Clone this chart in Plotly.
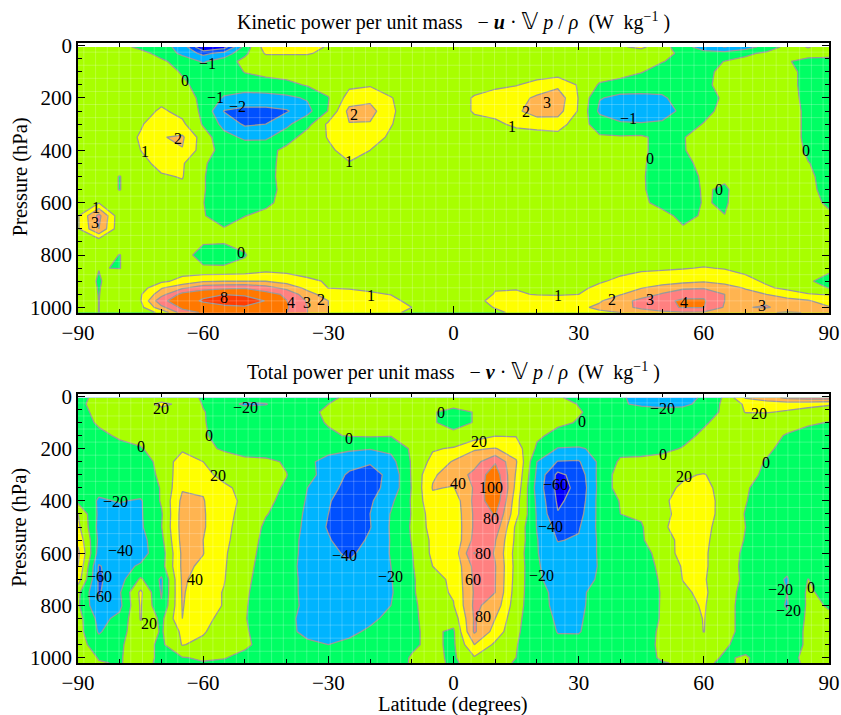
import numpy as np
import plotly.graph_objects as go

LAT = [-90,-85,-80,-75,-70,-65,-60,-55,-50,-45,-40,-35,-30,-25,-20,-15,-10,-5,
       0,5,10,15,20,25,30,35,40,45,50,55,60,65,70,75,80,85,90]

P_KINETIC = [5,30,60,100,150,200,250,300,350,400,450,500,550,600,650,700,750,800,850,900,925,950,975,1000,1020]
P_TOTAL = [5,30,60,100,150,200,250,300,350,400,450,500,550,600,650,700,750,800,850,900,950,1000,1020]

KINETIC = [
[.3,.3,.4,-.3,-.6,-1.4,-6,-5,-.6,1.5,1.6,1.4,.9,.6,.5,.5,.5,.5, .5,.5,.5,.5,.5,.4,.2,.3,.9,1.2,.4,-.6,-1.5,-2.1,-1.5,-.6,.3,1.1,.2],
[.5,.5,.5,.4,-.4,-1.2,-2.6,-1.6,-.2,1.1,1.1,1.1,.7,.5,.5,.5,.5,.5, .5,.5,.5,.5,.5,.5,.5,.5,.5,.5,.3,-.2,-.6,-.6,-.2,.2,.5,.5,.4],
[.5,.5,.5,.5,.2,-.5,-1.1,-.5,.3,.4,.4,.4,.5,.5,.5,.5,.5,.5, .5,.5,.5,.5,.5,.5,.5,.5,.5,.3,.05,-.3,-.3,.02,.3,.5,.1,-.4,-.4],
[.5,.5,.5,.5,.5,-.1,-.6,-.7,.05,.35,.5,.5,.5,.5,.5,.5,.5,.5, .5,.5,.5,.5,.5,.5,.5,.5,.5,.05,-.4,-.5,-.2,.2,.5,.5,.3,-.3,-.4],
[.5,.5,.5,.5,.5,.2,-.4,-.5,-.6,-.5,-.3,.1,.4,.8,.9,.5,.5,.5, .5,.6,.8,.95,1.3,1.75,.9,-.1,-.5,-.6,-.7,-.7,-.2,.3,.5,.5,.3,-.3,-.4],
[.5,.5,.5,.5,.7,.4,-.2,-1.1,-1.3,-1.3,-1.2,-.9,-.05,1.4,1.7,1.05,.5,.5, .5,1.1,1.4,1.6,2.2,2.6,.95,-.95,-1.2,-1.2,-1.1,-.7,-.4,.15,.5,.5,.4,-.3,-.5],
[.5,.5,.5,.6,1.15,.7,-.2,-2.1,-2.6,-2.6,-2.2,-1.3,.05,2.3,2.4,1.15,.5,.5, .5,1.1,1.3,1.8,2.5,2.4,.9,-1.2,-1.4,-1.4,-1.4,-.8,-.3,.3,.5,.5,.4,-.2,-.4],
[.5,.5,.5,.9,1.6,1.2,-.1,-1.3,-2.3,-2,-1.2,-.3,1.2,1.95,1.9,1.05,.5,.5, .5,.7,.8,1.2,1.4,1.5,.4,-.4,-.9,-.95,-.85,-.4,.05,.4,.5,.5,.4,-.2,-.4],
[.5,.5,.5,1.1,1.95,2.15,.5,-.7,-1.15,-1.15,-.5,.5,1.05,1.7,1.4,.85,.5,.5, .5,.5,.5,.5,.5,.6,.3,.1,.1,.15,-.3,-.05,.4,.5,.5,.5,.4,-.2,-.4],
[.5,.5,.5,1,1.8,1.95,.5,-.4,-.5,-.4,.3,.5,.85,1.3,1,.7,.5,.5, .5,.5,.5,.5,.5,.5,.5,.4,.4,.2,-.4,-.05,.3,.5,.5,.5,.35,-.1,-.3],
[.5,.5,.5,.7,1.3,1.1,.1,-.4,-.5,-.4,.4,.5,.7,.95,.85,.6,.5,.5, .5,.5,.5,.5,.5,.5,.5,.5,.45,.1,-.3,-.2,.2,.4,.5,.5,.4,.02,-.2],
[.5,.4,-.03,.6,.9,1.05,.05,-.4,-.5,-.35,.4,.5,.5,.5,.5,.5,.5,.5, .5,.5,.5,.5,.5,.5,.5,.5,.5,.1,-.4,-.3,.1,.1,.5,.5,.5,.1,-.2],
[.5,.4,-.03,.6,.7,.8,.05,-.4,-.5,-.35,.3,.5,.5,.5,.5,.5,.5,.5, .5,.5,.5,.5,.5,.5,.5,.5,.5,.1,-.35,-.3,.06,-.08,.3,.5,.5,.15,-.2],
[.5,.95,.5,.5,.5,.5,.02,-.45,-.45,-.25,.4,.5,.5,.5,.5,.5,.5,.5, .5,.5,.5,.5,.5,.5,.5,.5,.5,.2,-.3,-.35,.05,-.08,.4,.5,.5,.2,-.1],
[.9,3.3,.3,.5,.5,.5,.05,-.35,-.02,.3,.5,.5,.5,.5,.5,.5,.5,.5, .5,.5,.5,.5,.5,.5,.5,.5,.5,.4,.3,-.25,.1,.01,.5,.5,.5,.4,.1],
[.9,3,.3,.5,.5,.5,.3,.05,.4,.5,.5,.5,.5,.5,.5,.5,.5,.5, .5,.5,.5,.5,.5,.5,.5,.5,.5,.5,.5,.1,.3,.5,.5,.5,.5,.5,.5],
[.3,.3,.4,.5,.5,.5,.08,.05,.2,.5,.5,.5,.5,.5,.5,.5,.5,.5, .5,.5,.5,.5,.5,.5,.5,.5,.5,.5,.5,.5,.5,.5,.5,.5,.5,.5,.5],
[.4,.3,-.02,.5,.5,.3,-.3,-.35,-.05,.5,.5,.5,.5,.5,.5,.5,.5,.5, .5,.5,.5,.5,.5,.5,.5,.5,.5,.5,.5,.5,.5,.5,.5,.5,.5,.5,.5],
[.5,.02,-.02,.5,.5,.5,.1,.1,.2,.6,.6,.5,.5,.5,.5,.5,.5,.5, .5,.5,.5,.5,.5,.5,.5,.6,.85,.85,.9,.95,1.05,.95,.8,.6,.5,.5,.2],
[.5,-.08,.5,.5,.8,1.3,1.9,2,2,2,1.6,1.2,.9,.8,.75,.7,.5,.5, .5,.5,.6,.7,.7,.7,.8,.95,1.1,1.4,1.5,1.7,1.9,1.6,1.2,.9,.6,.1,-.3],
[.5,-.04,.5,.5,1.9,2.8,3.6,3.8,3.9,3.4,2.7,1.7,.98,.95,.85,.8,.5,.5, .5,.5,.95,.95,.9,.85,.9,1.1,1.4,1.95,2.4,2.8,2.9,2.5,1.9,1.1,.85,.6,-.05],
[.5,-.02,.5,.9,2.6,5.5,7,7.9,7.5,5.8,3.8,2.4,1.5,1.2,1.1,.98,.6,.5, .5,.6,1.05,1.1,.95,.9,1,1.3,1.95,2.5,3.1,3.7,3.8,3,2.4,2,1.3,1.05,.95],
[.5,-.01,.5,.95,3.8,6,8.5,10,9.5,7.9,4.1,2.9,2,1.5,1.4,1.2,.8,.5, .5,.7,1.3,1.5,1.5,1.5,1.7,1.9,2.6,3.3,3.8,4.5,4.4,3,2.8,2.8,2.5,2.1,1.5],
[.5,-.01,.5,.7,2.7,5,6,7,7.6,6.5,4.5,3,2,1.6,1.5,1.3,1,.5, .5,.6,1.05,1.3,1.3,1.4,1.8,2.2,2.7,3.2,3.8,4.2,4.1,2.9,2.95,3.1,2.6,2.4,2.1],
[.5,-.01,.5,.5,1.2,3.5,4.5,5,5.5,5,4,3,2,1.5,1.4,1.1,.9,.5, .5,.5,.8,1.2,1.2,1.3,1.5,1.8,2,2.5,2.7,2.9,2.8,2.3,2.1,2.1,1.9,2.05,2.05],
]

TOTAL = [
[-5,5,5,5,10,8,-2,-10,-15,-12,-5,-5,-3,3,5,5,5,5, 5,5,5,5,5,3,-8,-5,-18,-25,-28,-25,-18,3,42,50,65,70,70],
[-5,8,8,10,25,15,-1,-15,-22,-21,-10,-3,0,5,6,6,6,4, 4,4,6,6,6,5,-.5,-5,-18,-23,-25,-23,-16,5,23,30,28,25,22],
[-10,8,8,8,12,8,1,-8,-12,-10,-6,-4,3,6,6,6,6,1, -4,.5,5,6,6,5,1,-4,-8,-11,-14,-14,-10,4,21,21,18,14,10],
[-10,3,6,8,10,8,1,-6,-10,-10,-8,-4,1,6,6,6,7,1, -4,.5,6,6,4,3,-1,-5,-6,-8,-8,-6,-2,6,6,7,5,2,-.5],
[-12,-5,3,5,8,7,2,-6,-12,-12,-10,-6,-2,1,2,1,6,6, 3,10,19,19,3,-5,-7,-8,-8,-8,-8,-5,3,6,8,4,-1,-5,-7],
[-12,-12,-6,-1,6,16,4,-2,-10,-10,-11,-13,-15,-17,-19,-15,3,18, 22,38,41,30,-3,-21,-22,-16,-6,-6,-4,1,7,8,8,3,-5,-9,-10],
[-12,-15,-10,-6,4,32,20,8,6,4,-2,-17,-25,-32,-38,-27,2,26, 42,52,78,42,-20,-41,-42,-16,3,4,6,8,10,10,6,-1,-10,-11,-12],
[-10,-14,-12,-8,3,34,26,14,10,6,.5,-14,-28,-43,-47,-35,2,38, 47,66,92,38,-24,-65,-52,-14,9,10,12,18,21,12,5,-3,-11,-13,-14],
[-10,-15,-14,-10,1,38,38,24,14,5,-2,-20,-34,-46,-46,-34,1,41, 39,62,100.5,34,-28,-66,-56,-14,9,6,16,22,23,16,2,-8,-13,-14,-15],
[-5,-22,-19,-22,2,45,41,27,16,4,-5,-22,-38,-52,-43,-24,2,36, 28,65,95,28,-24,-63,-53,-13,1,4,18,24,26,15,1,-11,-13,-15,-15],
[20,-24,-25,-22,-2,48,42,25,15,1,-7,-24,-40,-55,-40,-19,1,30, 26,63,82,26,-22,-59,-48,-14,0,3,16,25,27,14,-1,-12,-14,-15,-16],
[25,-26,-30,-23,-.5,48,42,25,12,-3,-9,-25,-42,-55,-41,-18,2,28, 25,63,72,16,-21,-47,-42,-15,-6,-2,18.5,24,25,12,0,-13,-14,-16,-17],
[35,-24,-30,-27,-5,47,40,25,8,-4,-10,-27,-38,-52,-36,-19,1,24, 24,66,61,15,-19,-41,-38,-17,-8,-3,17,22,24,10,-1,-14,-15,-16,-17],
[45,-28,-30,-26,-10,44,40.5,23,5,-4,-11,-27,-34,-44,-32,-19,-1,24, 27,81,58,12,-19,-33,-32,-18,-9,-12,12,25,23,8,-3,-15,-16,-17,-16],
[40,-42,-25,-18,-8,44,37,22,4,-5,-15,-25,-28,-36,-30,-20,-2,20, 24,66,61,13,-18,-30,-28,-19,-9,-8,4,22,23,8,-4,-15,-17,-15,-15],
[30,-43,-28,3,-23,43,32,21,3,-6,-15,-24,-27,-30,-29,-21,-3,15, 23,64,60.5,12,-17,-28,-27,-18,-9,-8,2,20.5,22,5,-2,-15,-21,.5,-12],
[5,-42,-22,24,-22,42,28,19,2,-7,-15,-24,-26,-28,-28,-22,-3,14, 22,62,60,10,-15,-24,-23,-15,-9,-8,1,17,24,4,-3,-14,-20,3,-6],
[3,-38,-25,22,-18,41,28,19,1,-6,-14,-24,-25,-26,-27,-20,-2,5, 19,64,52,8,-14,-24,-23,-14,-8,-7,1,14,22,3,-3,-13,-21,3,-1],
[8,-26,-15,21,-5,40,24,16,.5,-5,-16,-25,-25,-25,-24,-15,-2,4, 8,62,40,5,-13,-22,-22,-13,-7,-6,1,6,21,3,-3,-12,-18,4,2],
[8,-22,-8,15,-2,24,22,9,1,-4,-16,-24,-25,-24,-17,-10,-2,3, -3,63,32,3,-12,-20.5,-21,-12,-6,-5,2,5,20.5,2,-2,-10,-15,5,2],
[10,-12,-2,8,-4,21,15,5,2,-4,-10,-17,-20,-16,-12,-8,-2,3, -3,40,16,1,-12,-17,-15,-10,-6,-4,2,4,8,1,-3,-8,-12,4,3],
[12,-1,-1,6,-3,-1,2,.5,-3,-6,-8,-8,-10,-10,-8,-6,1,4, -3,18,5,0,-8,-8,-8,-7,-6,-3,1,3,3,-1,1,-4,-6,5,3],
[10,1,-1,6,-4,-2,-1,-2,-4,-6,-7,-7,-8,-8,-7,-5,1,5, -3,8,4,-1,-7,-7,-7,-6,-5,-3,-.5,1,.5,-.5,.5,-3,-5,3,2],
]

KINETIC_LEVELS = [-4,-2,-1,0,1,2,3,4,8]
TOTAL_LEVELS = [-60,-40,-20,0,20,40,60,80,100]
BAND_COLORS = ["#0000ff","#0050ff","#00b4ff","#00ff64","#a8ff00","#ffff00","#ffb450","#ff8080","#ff7800","#ff3c00"]

KINETIC_LABELS = [("−1",-59,70),("0",-64.4,134),("−1",-57,200),("−2",-51.8,232),("2",-66,356),("1",-74,403),
 ("2",-23.8,263),("1",-25,441),("1",-85.6,620),("3",-86,674),("0",-50.9,789),("8",-54.9,964),("4",-38.9,983),
 ("3",-35,983),("2",-31.8,971),("1",-19.8,954),("1",14,308),("2",17.4,251),("3",22.4,216),("−1",42,280),
 ("0",47,432),("0",63.6,551),("0",84.6,401),("1",25,954),("2",38,971),("3",47,971),("4",55.2,983),("3",74,992)]
TOTAL_LABELS = [("20",-70,46),("−20",-49.8,42),("0",-58.5,149),("0",-75,192),("20",-56.4,301),("−20",-80.9,402),
 ("−40",-79.8,591),("−60",-84.9,690),("−60",-84.9,764),("40",-61.9,701),("20",-73,869),("0",-25,160),("−40",-26.2,610),
 ("−20",-15.2,690),("0",-3,61),("20",6,174),("0",30.7,95),("−20",50.2,47),("20",73.2,65),("0",50.2,221),("0",74.9,252),
 ("20",55.2,307),("40",1,335),("100",9,348),("−60",24.4,338),("80",9,468),("−40",23.2,499),("80",7,601),("−20",21.2,684),
 ("60",4.6,701),("80",7,841),("−20",78.4,738),("0",85.8,732),("−20",80.4,821)]

SERIF = "Liberation Serif"
W, H = 841, 715
ML, MR, MT, MB = 78, 12, 42.5, 51.7
PW = W - ML - MR
PH = H - MT - MB

def band_index(z, levels):
    xp = [2*levels[0]-levels[1]] + levels + [2*levels[-1]-levels[-2]]
    fp = list(range(-1, len(levels)+1))
    return np.interp(np.array(z, float), xp, fp)

def ydom(top, bottom):
    return [(H - MB - bottom)/PH, (H - MB - top)/PH]

n_bands = len(BAND_COLORS)
scale = []
for i, c in enumerate(BAND_COLORS):
    scale.append([max(0, (i-.5)/(n_bands-1)), c])
    scale.append([min(1, (i+.5)/(n_bands-1)), c])

# faint seams of the rendered mesh
mesh_lat = np.arange(-88.6, 90, 2.8125)
mesh_p = np.arange(25, 1020, 50)
mx, my = [], []
for v in mesh_lat:
    mx += [v, v, None]; my += [5, 1020, None]
for v in mesh_p:
    mx += [-90, 90, None]; my += [v, v, None]

fig = go.Figure()
panels = [("x","y",P_KINETIC,KINETIC,KINETIC_LEVELS,KINETIC_LABELS),
          ("x2","y2",P_TOTAL,TOTAL,TOTAL_LEVELS,TOTAL_LABELS)]
for xa, ya, p, z, lev, labels in panels:
    fig.add_trace(go.Contour(x=LAT, y=p, z=band_index(z, lev), xaxis=xa, yaxis=ya,
        contours=dict(start=0, end=len(lev)-1, size=1, coloring="fill", showlabels=False),
        line=dict(color="#999999", width=1.3, smoothing=0),
        colorscale=scale, showscale=False, hoverinfo="skip"))
    fig.add_trace(go.Scatter(x=mx, y=my, xaxis=xa, yaxis=ya, mode="lines", hoverinfo="skip",
        line=dict(color="rgba(255,255,255,0.22)", width=1)))
    for t, la, pr in labels:
        fig.add_annotation(x=la, y=pr, xref=xa, yref=ya, text=t, showarrow=False,
                           font=dict(family=SERIF, size=16, color="black"))

axis_common = dict(ticks="inside", mirror="allticks", showline=True, linecolor="black", linewidth=1.5,
                   tickcolor="black", tickwidth=1.3, showgrid=False, zeroline=False, automargin=False,
                   tickfont=dict(family=SERIF, size=21, color="black"))
xa_opts = dict(axis_common, range=[-90,90], tick0=-90, dtick=30, ticklen=7,
               minor=dict(tick0=-90, dtick=10, ticks="inside", ticklen=4, tickcolor="black", tickwidth=1.2))
ya_opts = dict(axis_common, range=[1020,-10], tick0=0, dtick=200, ticklen=7,
               minor=dict(tick0=0, dtick=50, ticks="inside", ticklen=4, tickcolor="black", tickwidth=1.2))

fig.update_layout(width=W, height=H, margin=dict(l=ML,r=MR,t=MT,b=MB,pad=0), paper_bgcolor="white", plot_bgcolor="white",
    xaxis=dict(xa_opts, domain=[0,1], anchor="y"),
    yaxis=dict(ya_opts, domain=ydom(42.5,312.5), anchor="x"),
    xaxis2=dict(xa_opts, domain=[0,1], anchor="y2"),
    yaxis2=dict(ya_opts, domain=ydom(393.7,663.3), anchor="x2"),
    showlegend=False)

def page_text(x, y, text, size=20, angle=0):
    fig.add_annotation(x=(x-ML)/PW, y=(H-MB-y)/PH, xref="paper", yref="paper", showarrow=False, text=text, textangle=angle,
                       xanchor="center", yanchor="middle", font=dict(family=SERIF, size=size, color="black"))

NABLA = '<span style="font-family:DejaVu Sans;font-size:23px">𝕍</span>'
page_text(453.5, 20.5, f"Kinetic power per unit mass   − <b><i>u</i></b> · {NABLA} <i>p</i> / <i>ρ</i>  (W  kg<sup>−1</sup> )")
page_text(453, 371, f"Total power per unit mass   − <b><i>v</i></b> · {NABLA} <i>p</i> / <i>ρ</i>  (W  kg<sup>−1</sup> )")
page_text(453, 705, "Latitude (degrees)", 20.5)
page_text(20, 177, "Pressure (hPa)", 20.5, -90)
page_text(20, 528, "Pressure (hPa)", 20.5, -90)

fig.write_html("out.html", config=dict(displayModeBar=False), post_script="document.body.style.margin='0';")
